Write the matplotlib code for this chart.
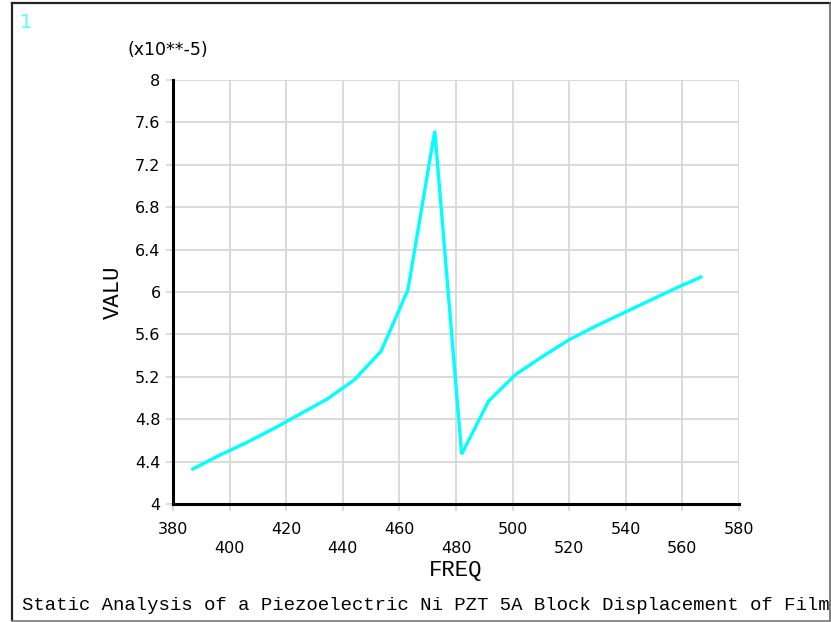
import matplotlib
matplotlib.use("Agg")
import matplotlib.pyplot as plt
from matplotlib.lines import Line2D

# Data (values in units of 1e-5)
freq = [387.0, 396.5, 406.0, 415.5, 425.0, 434.5, 444.0, 453.5, 463.0, 472.5,
        482.0, 491.5, 501.0, 510.5, 520.0, 529.5, 539.0, 548.5, 558.0, 566.5]
valu = [4.33, 4.46, 4.58, 4.71, 4.85, 4.99, 5.17, 5.44, 6.02, 7.52,
        4.47, 4.97, 5.22, 5.39, 5.55, 5.68, 5.80, 5.92, 6.04, 6.14]
xticks = [380, 400, 420, 440, 460, 480, 500, 520, 540, 560, 580]
yticks = [4, 4.4, 4.8, 5.2, 5.6, 6, 6.4, 6.8, 7.2, 7.6, 8]
ytick_labels = ["4", "4.4", "4.8", "5.2", "5.6", "6", "6.4", "6.8", "7.2", "7.6", "8"]
title = "Static Analysis of a Piezoelectric Ni PZT 5A Block Displacement of Film"

W, H = 831, 622
fig = plt.figure(figsize=(W / 100, H / 100), dpi=100)
fig.patch.set_facecolor("white")

ax = fig.add_axes([173 / W, 1 - 504 / H, (739 - 173) / W, (504 - 80) / H])
ax.set_xlim(380, 580)
ax.set_ylim(4, 8)

grid_c = "#d8d8d8"
ax.set_xticks(xticks)
ax.set_xticklabels([str(v) if i % 2 == 0 else "\n" + str(v) for i, v in enumerate(xticks)],
                   fontsize=11.5, linespacing=1.3)
ax.set_yticks(yticks)
ax.set_yticklabels(ytick_labels, fontsize=11.5)
ax.grid(True, color=grid_c, linewidth=1.3)
ax.tick_params(axis="both", direction="out", color=grid_c, width=1.3, length=5)
ax.tick_params(axis="x", pad=8)
ax.tick_params(axis="y", pad=4)

for s in ["top", "right"]:
    ax.spines[s].set_visible(False)
for s in ["left", "bottom"]:
    ax.spines[s].set_color("black")
    ax.spines[s].set_linewidth(2.2)

ax.plot(freq, valu, color="#00ffff", linewidth=2.4, solid_joinstyle="miter", zorder=3)

ax.set_xlabel("FREQ", fontsize=16, family="Liberation Mono", labelpad=3)
ax.set_ylabel("VALU", fontsize=16, family="Liberation Mono", labelpad=8)

fig.text(168 / W, 1 - 50 / H, "(x10**-5)", fontsize=12.5, ha="center", va="center")
fig.text(20 / W, 1 - 22 / H, "1", fontsize=14, color="#55ffff", ha="left", va="center")
fig.text(22 / W, 1 - 605 / H, title, fontsize=13.65, family="Liberation Mono",
         ha="left", va="center")

# outer frame
fig.add_artist(Line2D([12 / W, 12 / W], [1 - 620 / H, 1 - 3 / H], color="#222222",
                      linewidth=1.6, transform=fig.transFigure))
fig.add_artist(Line2D([12 / W, 830 / W], [1 - 3 / H, 1 - 3 / H], color="#222222",
                      linewidth=1.6, transform=fig.transFigure))
fig.add_artist(Line2D([829.5 / W, 829.5 / W], [1 - 620 / H, 1 - 3 / H], color="#666666",
                      linewidth=1.2, transform=fig.transFigure))
fig.add_artist(Line2D([12 / W, 830 / W], [1 - 620.5 / H, 1 - 620.5 / H], color="#777777",
                      linewidth=1.2, transform=fig.transFigure))

fig.savefig("out.png", dpi=100, facecolor="white")
